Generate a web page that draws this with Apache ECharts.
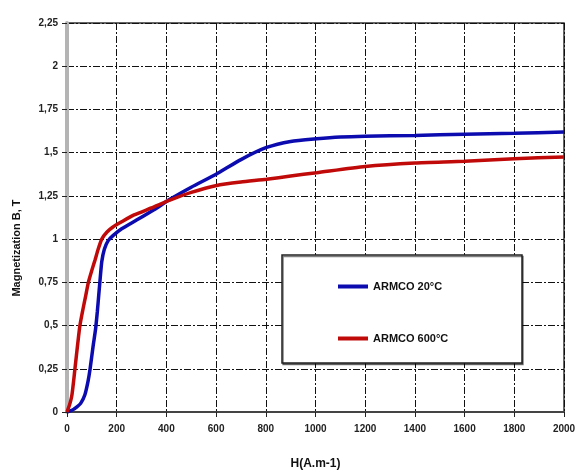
<!DOCTYPE html>
<html>
<head>
<meta charset="utf-8">
<script src="https://cdn.jsdelivr.net/npm/echarts@6/dist/echarts.min.js"></script>
<style>html,body{margin:0;padding:0;background:#fff}#c{width:581px;height:475px}</style>
</head>
<body>
<div id="c"></div>
<script>
var xTicks = [0, 200, 400, 600, 800, 1000, 1200, 1400, 1600, 1800, 2000];
var yTicks = [0, 0.25, 0.5, 0.75, 1, 1.25, 1.5, 1.75, 2, 2.25];

var h20 = [0, 20, 40, 55, 72, 85, 93, 105, 115, 122, 128, 134, 140, 150, 165, 185, 220, 280, 350, 414, 500, 600, 700, 803, 900, 1005, 1100, 1200, 1400, 1600, 1800, 2000];
var b20 = [0, 0.01, 0.03, 0.05, 0.1, 0.18, 0.25, 0.38, 0.48, 0.58, 0.68, 0.78, 0.87, 0.94, 0.99, 1.02, 1.06, 1.11, 1.17, 1.23, 1.3, 1.375, 1.46, 1.53, 1.565, 1.58, 1.59, 1.595, 1.6, 1.606, 1.612, 1.62];

var h600 = [0, 10, 20, 32, 42, 52, 65, 75, 86, 100, 113, 125, 140, 160, 185, 220, 270, 340, 414, 500, 602, 700, 803, 900, 1005, 1200, 1400, 1600, 1800, 2000];
var b600 = [0, 0.04, 0.1, 0.25, 0.38, 0.5, 0.6, 0.67, 0.75, 0.82, 0.88, 0.94, 1.0, 1.04, 1.07, 1.1, 1.14, 1.18, 1.225, 1.27, 1.31, 1.33, 1.346, 1.365, 1.384, 1.42, 1.44, 1.45, 1.465, 1.475];

var seriesNames = ['ARMCO 20°C', 'ARMCO 600°C'];
var xName = 'H(A.m-1)';
var yName = 'Magnetization B, T';

function pairs(xs, ys) { return xs.map(function (x, i) { return [x, ys[i]]; }); }

var chart = echarts.init(document.getElementById('c'), null, { renderer: 'canvas' });
var font = 'Liberation Sans, Arial, sans-serif';
var splitStyle = { color: '#111', width: 1, type: [7, 2, 2, 2] };

chart.setOption({
  animation: false,
  backgroundColor: '#fff',
  grid: { left: 67, right: 17, top: 23, bottom: 57, show: true, borderColor: '#333', borderWidth: 1.5, backgroundColor: '#fff' },
  xAxis: {
    type: 'value', min: xTicks[0], max: xTicks[xTicks.length - 1], interval: 200,
    name: xName, nameLocation: 'middle', nameGap: 46,
    nameTextStyle: { fontFamily: font, fontWeight: 'bold', fontSize: 12, color: '#111' },
    axisLine: { lineStyle: { color: '#444', width: 2 } },
    axisTick: { show: true, inside: false, length: 5, lineStyle: { color: '#222' } },
    axisLabel: { margin: 12, fontFamily: font, fontSize: 10, fontWeight: 'bold', color: '#222',
      formatter: function (v) { return String(v); } },
    splitLine: { show: true, lineStyle: splitStyle }
  },
  yAxis: {
    type: 'value', min: yTicks[0], max: yTicks[yTicks.length - 1], interval: 0.25,
    axisLine: { show: true, lineStyle: { color: '#b4b4b4', width: 4 } },
    axisTick: { show: true, inside: false, length: 5, lineStyle: { color: '#222' } },
    axisLabel: { margin: 9, fontFamily: font, fontSize: 10, fontWeight: 'bold', color: '#222',
      formatter: function (v) { return String(v).replace('.', ','); } },
    splitLine: { show: true, lineStyle: splitStyle }
  },
  legend: {
    orient: 'vertical', left: 333, top: 276, itemGap: 41,
    icon: 'rect', itemWidth: 30, itemHeight: 4, z: 10,
    textStyle: { fontFamily: font, fontWeight: 'bold', fontSize: 11, color: '#111' },
    data: seriesNames
  },
  graphic: [
    { type: 'rect', z: 5, shape: { x: 282, y: 255, width: 240, height: 108 },
      style: { fill: '#fff', stroke: '#222', lineWidth: 1.5, shadowColor: 'rgba(0,0,0,0.5)', shadowOffsetX: 1, shadowOffsetY: 1.5, shadowBlur: 0 } },
    { type: 'text', z: 5, x: 17, y: 248, rotation: Math.PI / 2,
      style: { text: yName, font: 'bold 11px Liberation Sans, Arial, sans-serif', fill: '#111', textAlign: 'center', textVerticalAlign: 'middle' } }
  ],
  series: [
    { name: seriesNames[0], type: 'line', data: pairs(h20, b20), showSymbol: false, smooth: 0.2, z: 3,
      lineStyle: { color: '#0b0bb0', width: 3.5 }, itemStyle: { color: '#0b0bb0' } },
    { name: seriesNames[1], type: 'line', data: pairs(h600, b600), showSymbol: false, smooth: 0.2, z: 3,
      lineStyle: { color: '#c00a0a', width: 3.5 }, itemStyle: { color: '#c00a0a' } }
  ]
});
</script>
</body>
</html>
